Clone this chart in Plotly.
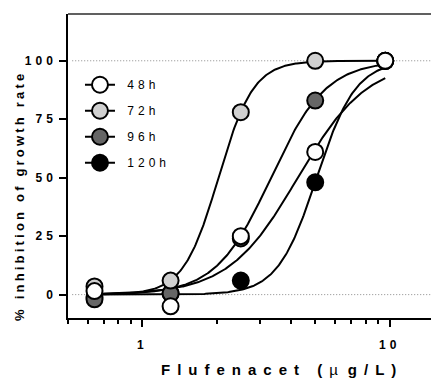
import numpy as np
import plotly.graph_objects as go

# ---- data ----
conc = [0.64, 1.3, 2.5, 5.0, 9.6]            # Flufenacet, µg/L
series = ["48h", "72h", "96h", "120h"]
inhib_48h = [1.5, -5, 25, 61, 100]
inhib_72h = [3.5, 6, 78, 100, 100]
inhib_96h = [-2, 0.5, 24, 83, 100]
inhib_120h = [-1, 0.5, 6, 48, 100]
# fitted dose-response (Hill) parameters, one per series
ec50 = [4.25, 2.03, 3.31, 5.07]
hill = [3.1, 6.14, 3.9, 5.5]
top = [100, 100, 100, 100]
fill_colors = ["#ffffff", "#d0d0d0", "#666666", "#000000"]
x_tickvals = [1, 10]
x_minor = [0.5, 0.6, 0.7, 0.8, 0.9, 2, 3, 4, 5, 6, 7, 8, 9]
y_tickvals = [0, 25, 50, 75, 100]
ref_levels = [0, 100]

values = [inhib_48h, inhib_72h, inhib_96h, inhib_120h]

FONT = "Liberation Sans, Arial, sans-serif"


def spaced(t, px):
    return '<span style="letter-spacing:%spx">%s</span>' % (px, t)


fig = go.Figure()

# dotted reference lines
for lv in ref_levels:
    fig.add_trace(go.Scatter(x=[0.52, 14.7], y=[lv, lv], mode="lines",
                             line=dict(color="#8a8a8a", width=1, dash="1px,2px"),
                             showlegend=False, hoverinfo="skip"))

# fitted curves
xs = np.logspace(np.log10(min(conc)), np.log10(max(conc)), 300)
for i in range(len(series)):
    ys = top[i] / (1 + (ec50[i] / xs) ** hill[i])
    fig.add_trace(go.Scatter(x=xs, y=ys, mode="lines",
                             line=dict(color="black", width=2),
                             showlegend=False, hoverinfo="skip"))

# data markers (48h drawn last, on top)
for i in reversed(range(len(series))):
    fig.add_trace(go.Scatter(x=conc, y=values[i], mode="markers",
                             marker=dict(size=16, color=fill_colors[i],
                                         line=dict(color="black", width=2)),
                             showlegend=False, name=series[i]))

# legend entries
for i in range(len(series)):
    fig.add_trace(go.Scatter(x=[None], y=[None], mode="lines+markers",
                             name=spaced("\u00a0" + series[i], 4),
                             legendgroup=series[i],
                             line=dict(color="black", width=2),
                             marker=dict(size=16, color=fill_colors[i],
                                         line=dict(color="black", width=2))))

tickfont = dict(family=FONT, size=12, color="black", weight="bold")

fig.update_layout(
    width=431, height=379,
    margin=dict(l=68, r=0, t=14, b=61),
    plot_bgcolor="white", paper_bgcolor="white",
    showlegend=True,
    legend=dict(x=0.033, y=0.815, xanchor="left", yanchor="top",
                font=dict(family=FONT, size=12, color="black"),
                bgcolor="rgba(0,0,0,0)", tracegroupgap=7,
                traceorder="grouped"),
    xaxis=dict(type="log", range=[np.log10(0.5), np.log10(14.7)],
               showline=True, linecolor="black", linewidth=1.5,
               ticks="outside", ticklen=7, tickwidth=1.5, tickcolor="black",
               tickvals=x_tickvals,
               ticktext=[spaced(str(v), 4) for v in x_tickvals],
               tickfont=tickfont, ticklabelstandoff=8,
               showgrid=False, zeroline=False,
               minor=dict(tickvals=x_minor, ticks="outside", ticklen=4,
                          tickwidth=1.5, tickcolor="black", showgrid=False)),
    yaxis=dict(range=[-10, 120], showline=True, linecolor="black", linewidth=1.5,
               ticks="outside", ticklen=7, tickwidth=1.5, tickcolor="black",
               tickvals=y_tickvals,
               ticktext=[spaced(str(v), 4) for v in y_tickvals],
               tickfont=tickfont, showgrid=False, zeroline=False),
    shapes=[dict(type="line", xref="paper", yref="paper", x0=0, x1=1, y0=1, y1=1,
                 line=dict(color="#606060", width=2))],
    annotations=[
        dict(text=spaced("% inhibition of growth rate", 3.2), textangle=-90,
             xref="paper", yref="paper", x=-0.132, y=0.402,
             xanchor="center", yanchor="middle", showarrow=False,
             font=dict(family=FONT, size=13, color="black", weight="bold")),
        dict(text='<span style="letter-spacing:7px">Flufenacet (</span>'
                  '<span style="font-weight:normal;letter-spacing:10px">µ</span>'
                  '<span style="letter-spacing:7px">g/L)</span>',
             xref="paper", yref="paper", x=0.5895, y=-0.168,
             xanchor="center", yanchor="middle", showarrow=False,
             font=dict(family=FONT, size=15, color="black", weight="bold")),
    ],
)

fig.write_html("out.html")
